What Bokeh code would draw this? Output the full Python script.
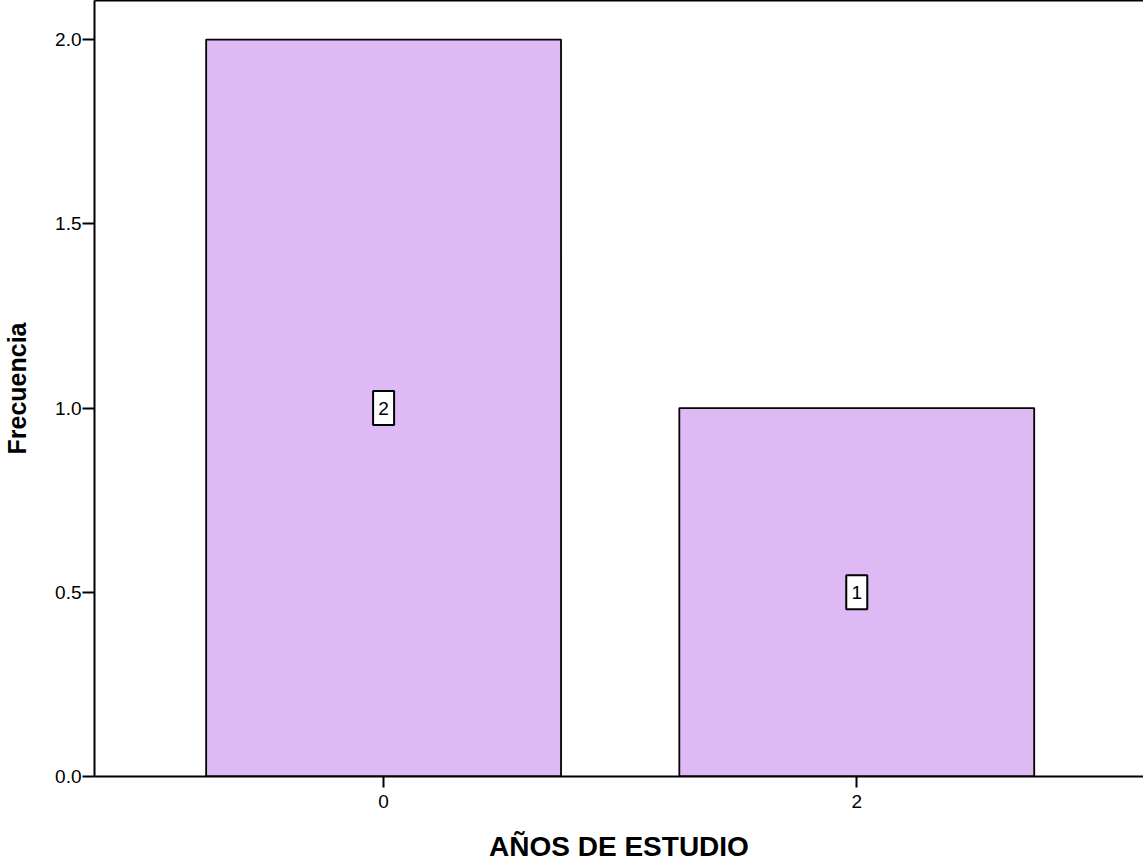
from bokeh.plotting import figure
from bokeh.models import Range1d, FixedTicker, LinearAxis, NumeralTickFormatter, ColumnDataSource
from bokeh.core.properties import value
from bokeh.embed import file_html
from bokeh.resources import INLINE

# Data
categories = ["0", "2"]
frequencies = [2, 1]
y_ticks = [0.0, 0.5, 1.0, 1.5, 2.0]
x_title = "AÑOS DE ESTUDIO"
y_title = "Frecuencia"

FONT = "Liberation Sans"
BAR_COLOR = "#DFB9F3"

xpos = list(range(len(categories)))
src = ColumnDataSource(dict(
    x=xpos,
    top=frequencies,
    mid=[f / 2 for f in frequencies],
    lab=[str(f) for f in frequencies],
))

p = figure(width=1143, height=864, output_backend="svg", toolbar_location=None,
           x_range=Range1d(-0.611, 1.606), y_range=Range1d(0, 2.106),
           min_border_left=93, min_border_right=0, min_border_top=0, min_border_bottom=0)
p.background_fill_color = "white"
p.border_fill_color = "white"
p.outline_line_color = None
p.grid.visible = False

p.vbar(x="x", top="top", bottom=0, width=0.75, source=src,
       fill_color=BAR_COLOR, line_color="black", line_width=1.8)

p.rect(x="x", y="mid", width=21, height=34, width_units="screen", height_units="screen",
       source=src, fill_color="white", line_color="black", line_width=2)
p.text(x="x", y="mid", text="lab", source=src, text_align="center", text_baseline="middle",
       text_font=value(FONT), text_font_size="19px", text_color="black")

# axes
xa = p.xaxis[0]
xa.ticker = FixedTicker(ticks=xpos)
xa.major_label_overrides = {i: c for i, c in zip(xpos, categories)}
xa.axis_label = x_title
xa.axis_label_text_font = FONT
xa.axis_label_text_font_style = "bold"
xa.axis_label_text_font_size = "28px"
xa.axis_label_text_color = "black"
xa.axis_label_standoff = 20
xa.major_label_text_font = FONT
xa.major_label_text_font_size = "19px"
xa.major_label_text_color = "black"
xa.major_label_standoff = 7
xa.major_tick_out = 11
xa.major_tick_in = 0
xa.minor_tick_out = 0
xa.minor_tick_in = 0
xa.axis_line_width = 2
xa.major_tick_line_width = 2
xa.axis_line_color = "black"

ya = p.yaxis[0]
ya.ticker = FixedTicker(ticks=y_ticks)
ya.formatter = NumeralTickFormatter(format="0.0")
ya.axis_label = y_title
ya.axis_label_text_font = FONT
ya.axis_label_text_font_style = "bold"
ya.axis_label_text_font_size = "25px"
ya.axis_label_text_color = "black"
ya.axis_label_standoff = 21
ya.major_label_text_font = FONT
ya.major_label_text_font_size = "19px"
ya.major_label_text_color = "black"
ya.major_label_standoff = 1
ya.major_tick_out = 12
ya.major_tick_in = 0
ya.minor_tick_out = 0
ya.minor_tick_in = 0
ya.axis_line_width = 2
ya.major_tick_line_width = 2
ya.axis_line_color = "black"

top = LinearAxis(ticker=FixedTicker(ticks=[]), major_tick_out=0, major_tick_in=0,
                 minor_tick_out=0, minor_tick_in=0, axis_line_width=2,
                 axis_line_color="black", major_label_standoff=0)
p.add_layout(top, "above")

open("out.html", "w").write(file_html(p, INLINE))
